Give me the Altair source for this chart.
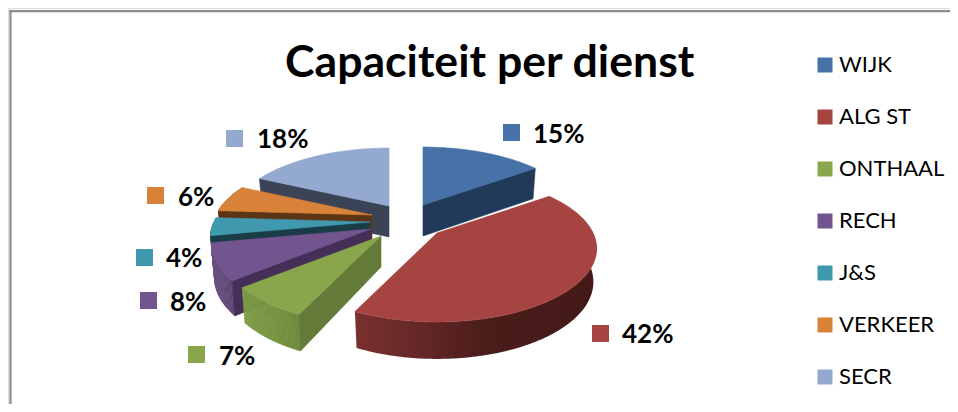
import math
import altair as alt
import pandas as pd

categories = ["WIJK", "ALG ST", "ONTHAAL", "RECH", "J&S", "VERKEER", "SECR"]
values = [15, 42, 7, 8, 4, 6, 18]
top_colors = ["#4672A8", "#A54441", "#8AA64D", "#72548F", "#4199B0", "#D98239", "#93A9CF"]
cut_colors = ["#223A5A", "#5A2220", "#647A38", "#432F58", "#1A3C47", "#5C3515", "#3B4356"]
rim_left = ["#223A5A", "#7A302E", "#7E9C46", "#6B5184", "#2C6A7C", "#8A5522", "#3B4356"]
rim_right = ["#223A5A", "#431A18", "#6D8A3C", "#5A4272", "#2C6A7C", "#8A5522", "#3B4356"]
apex_x = [423, 437, 381, 371, 370, 372, 389]
apex_y = [205, 233, 236, 229, 222, 215, 206]
square_x = [511.5, 600.5, 196.5, 148.5, 144.5, 155.5, 234.5]
square_y = [132.5, 333.5, 354.5, 300.5, 257.5, 195.5, 138.5]
label_x = [533, 622, 219, 170, 166, 178, 257]
label_y = [135, 335, 357, 303, 259, 198, 140]

# painter's order: back slices first, the front ones over them
draw_order = [6, 5, 4, 3, 2, 0, 1]
K, A, B = 0.211, 70.2, 156.0
DEPTH, DEPTH_K, BOTTOM_X = 32.5, 0.12, 0.98
PAGE_W, PAGE_H = 942, 396


def top_point(i, theta):
    u, v = math.sin(theta), -math.cos(theta)
    d = 1 - K * v
    return apex_x[i] + B * u / d, apex_y[i] + A * v / d


def bottom_point(i, theta):
    x, y = top_point(i, theta)
    v = -math.cos(theta)
    return apex_x[i] + (x - apex_x[i]) * BOTTOM_X, y + DEPTH / (1 - DEPTH_K * v)


def mix(c1, c2, t):
    t = max(0.0, min(1.0, t))
    a = [int(c1[j:j + 2], 16) for j in (1, 3, 5)]
    b = [int(c2[j:j + 2], 16) for j in (1, 3, 5)]
    return "#%02X%02X%02X" % tuple(round(p + (q - p) * t) for p, q in zip(a, b))


rows = []
poly_id = [0]


def add_poly(points, shade, part="main"):
    pts = list(points) + [points[0]]
    for n, (x, y) in enumerate(pts):
        rows.append({"poly": poly_id[0], "i": n, "x": x, "y": y, "shade": shade, "part": part})
    poly_id[0] += 1


starts = []
acc = 0
for v in values:
    starts.append(acc)
    acc += v

for i in draw_order:
    t0 = math.radians(starts[i] * 3.6)
    t1 = math.radians((starts[i] + values[i]) * 3.6)
    steps = max(12, values[i] * 4)
    angles = [t0 + (t1 - t0) * s / steps for s in range(steps + 1)]
    if i == 1:
        # the large front wall is one shape with a gradient
        front = [a for a in angles if a >= math.radians(70)]
        add_poly([top_point(i, a) for a in front] + [bottom_point(i, a) for a in reversed(front)], rim_left[i], "wall")
    elif i not in (0, 6):
        # outer wall, as narrow strips that carry the shading
        xs = [top_point(i, a)[0] for a in angles]
        x_lo, x_hi = min(xs), max(xs)
        for a, b in zip(angles[:-1], angles[1:]):
            xm = (top_point(i, a)[0] + top_point(i, b)[0]) / 2
            shade = mix(rim_left[i], rim_right[i], (xm - x_lo) / (x_hi - x_lo))
            add_poly([top_point(i, a), top_point(i, b), bottom_point(i, b), bottom_point(i, a)], shade)
    # cut face at the slice's leading (visible) side
    if i != 1:
        cut = t0 if i != 0 else t1
        tx, ty = top_point(i, cut)
        bx, by = bottom_point(i, cut)
        ax, ay = apex_x[i], apex_y[i]
        add_poly([(ax, ay), (tx, ty), (bx, by), (ax, ay + DEPTH - 1.5)], cut_colors[i])
    # top face
    add_poly([(apex_x[i], apex_y[i])] + [top_point(i, a) for a in angles], top_colors[i], "front" if i == 1 else "main")

polys = pd.DataFrame(rows)
sx = alt.Scale(domain=[8, 8 + PAGE_W], nice=False, zero=False)
sy = alt.Scale(domain=[8, 8 + PAGE_H], reverse=True, nice=False, zero=False)

frame = alt.Chart(pd.DataFrame({"x": [9.5, 10.5], "x2": [8 + PAGE_W, 10.5], "y": [11.2, 10], "y2": [11.2, 8 + PAGE_H]})).mark_rule(
    color="#8C8C8C", strokeWidth=2.2
).encode(
    x=alt.X("x:Q", scale=sx, axis=None), x2="x2:Q",
    y=alt.Y("y:Q", scale=sy, axis=None), y2="y2:Q",
)


def poly_layer(part):
    return alt.Chart(polys[polys["part"] == part]).mark_line(strokeWidth=0.6).encode(
        x=alt.X("x:Q", scale=sx, axis=None),
        y=alt.Y("y:Q", scale=sy, axis=None),
        order="i:Q",
        detail="poly:N",
        fill=alt.Fill("shade:N", scale=None),
        stroke=alt.Stroke("shade:N", scale=None),
    )


pie = poly_layer("main")
red_top = poly_layer("front")
red_wall = alt.Chart(polys[polys["part"] == "wall"]).mark_line(
    strokeWidth=0,
    fill=alt.Gradient(
        gradient="linear", x1=0, x2=1, y1=0, y2=0,
        stops=[
            alt.GradientStop(offset=0, color="#7A302E"),
            alt.GradientStop(offset=0.25, color="#662828"),
            alt.GradientStop(offset=0.55, color="#4A1C1A"),
            alt.GradientStop(offset=1, color="#431A18"),
        ],
    ),
).encode(
    x=alt.X("x:Q", scale=sx, axis=None),
    y=alt.Y("y:Q", scale=sy, axis=None),
    order="i:Q",
)

labels_df = pd.DataFrame({
    "category": categories,
    "label": [f"{v}%" for v in values],
    "sx": square_x, "sy": square_y, "lx": label_x, "ly": label_y,
})

squares = alt.Chart(labels_df).mark_square(size=289, opacity=1).encode(
    x=alt.X("sx:Q", scale=sx, axis=None),
    y=alt.Y("sy:Q", scale=sy, axis=None),
    color=alt.Color(
        "category:N",
        scale=alt.Scale(domain=categories, range=top_colors),
        sort=categories,
        legend=alt.Legend(
            title=None, orient="none", legendX=806, legendY=46,
            symbolType="square", symbolSize=225, symbolStrokeWidth=0, symbolOpacity=1,
            labelFont="Lato", labelFontSize=22, labelColor="#000000", labelOffset=3,
            rowPadding=30, padding=0, labelLimit=200,
        ),
    ),
)

texts = alt.Chart(labels_df).mark_text(
    align="left", baseline="middle", font="Lato", fontWeight="bold", fontSize=26, color="#000000"
).encode(
    x=alt.X("lx:Q", scale=sx, axis=None),
    y=alt.Y("ly:Q", scale=sy, axis=None),
    text="label:N",
)

chart = alt.layer(frame, pie, red_wall, red_top, squares, texts).properties(
    width=PAGE_W, height=PAGE_H, padding=0, autosize=alt.AutoSizeParams(type="none"),
    title=alt.TitleParams(
        text="Capaciteit per dienst", font="Lato", fontWeight="bold", fontSize=44.6, color="#000000",
        anchor="start", dx=277, dy=83, frame="group",
    ),
).configure_view(stroke=None).configure(background="#FFFFFF")

chart.save("out.html", embed_options={"renderer": "svg", "actions": False})
